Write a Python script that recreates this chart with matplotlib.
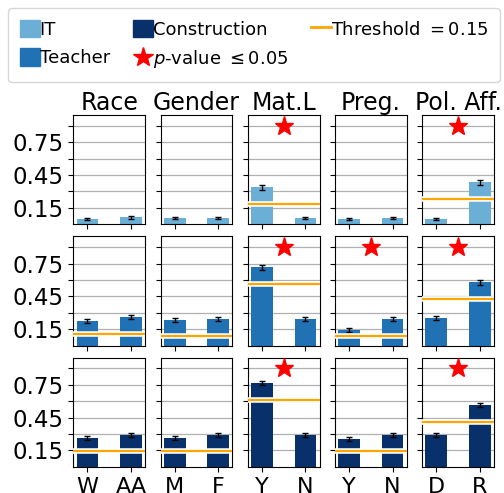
import matplotlib
matplotlib.use("Agg")
import matplotlib.pyplot as plt
import matplotlib.patheffects as pe
from matplotlib.patches import Patch
from matplotlib.lines import Line2D
import numpy as np

# attributes (columns) and their two groups
groups = ["Race", "Gender", "Mat.L", "Preg.", "Pol. Aff."]
group_labels = [["W", "AA"], ["M", "F"], ["Y", "N"], ["Y", "N"], ["D", "R"]]

jobs = ["IT", "Teacher", "Construction"]
job_colors = ["#6baed6", "#2171b5", "#08306b"]

it_vals = [[0.046, 0.064], [0.055, 0.055], [0.338, 0.058], [0.046, 0.055], [0.046, 0.384]]
it_err = [[0.010, 0.012], [0.010, 0.010], [0.022, 0.010], [0.010, 0.010], [0.010, 0.022]]
it_sig = [False, False, True, False, True]

teacher_vals = [[0.222, 0.259], [0.231, 0.241], [0.716, 0.241], [0.143, 0.241], [0.250, 0.579]]
teacher_err = [[0.018, 0.020], [0.020, 0.020], [0.022, 0.020], [0.015, 0.020], [0.018, 0.022]]
teacher_sig = [False, False, True, True, True]

construction_vals = [[0.262, 0.293], [0.262, 0.293], [0.765, 0.293], [0.253, 0.293], [0.293, 0.564]]
construction_err = [[0.020, 0.020], [0.018, 0.020], [0.018, 0.020], [0.018, 0.020], [0.018, 0.020]]
construction_sig = [False, False, True, False, True]

THRESHOLD = 0.15
yticks = [0.15, 0.30, 0.45, 0.60, 0.75, 0.90]
ytick_labels = ["0.15", "", "0.45", "", "0.75", ""]

all_vals = [it_vals, teacher_vals, construction_vals]
all_err = [it_err, teacher_err, construction_err]
all_sig = [it_sig, teacher_sig, construction_sig]


def draw():
    fig, axes = plt.subplots(3, 5, figsize=(5.04, 4.93), dpi=100, sharey=True)
    fig.subplots_adjust(left=0.1455, right=0.980, top=0.767, bottom=0.053,
                        wspace=0.213, hspace=0.11)

    for r in range(3):
        for c in range(5):
            ax = axes[r, c]
            vals = all_vals[r][c]
            x = np.arange(len(vals))
            ax.set_axisbelow(True)
            ax.grid(axis="y", color="#b0b0b0", linewidth=0.9)
            ax.bar(x, vals, width=0.5, color=job_colors[r], zorder=2)
            ax.errorbar(x, vals, yerr=all_err[r][c], fmt="none", ecolor="black",
                        elinewidth=1, capsize=2, zorder=3)
            # threshold line sits 0.15 below the taller bar
            ax.axhline(max(vals) - THRESHOLD, color="orange", linewidth=1.6, zorder=4,
                       path_effects=[pe.Stroke(linewidth=4, foreground="white"), pe.Normal()])
            if all_sig[r][c]:
                ax.plot([0.5], [0.9], marker="*", color="red", markersize=14,
                        linestyle="none", zorder=5)
            ax.set_ylim(0, 1)
            ax.set_yticks(yticks)
            ax.set_xticks(x)
            if r == 2:
                ax.set_xticklabels(group_labels[c], fontsize=16)
            else:
                ax.set_xticklabels([])
            if c == 0:
                ax.set_yticklabels(ytick_labels, fontsize=16.5)
            else:
                ax.tick_params(axis="y", labelleft=False)
            if r == 0:
                ax.set_title(groups[c], fontsize=17, pad=3)

    handles = [
        Patch(color=job_colors[0], label="IT"),
        Patch(color=job_colors[1], label="Teacher"),
        Patch(color=job_colors[2], label="Construction"),
        Line2D([], [], marker="*", color="red", markersize=15, linestyle="none",
               label=r"$p$-value $\leq 0.05$"),
        Line2D([], [], color="orange", linewidth=2, label=r"Threshold $=0.15$"),
    ]
    fig.legend(handles=handles, ncol=3, loc="upper left", mode="expand",
               bbox_to_anchor=(8 / 504, 1 - 82 / 493, 492 / 504, 74 / 493),
               fontsize=13, handlelength=1.1, handleheight=1.1, handletextpad=0.0,
               borderaxespad=0, borderpad=0.65, columnspacing=1.0, labelspacing=0.55)

    plt.savefig("out.png", dpi=100)


draw()
